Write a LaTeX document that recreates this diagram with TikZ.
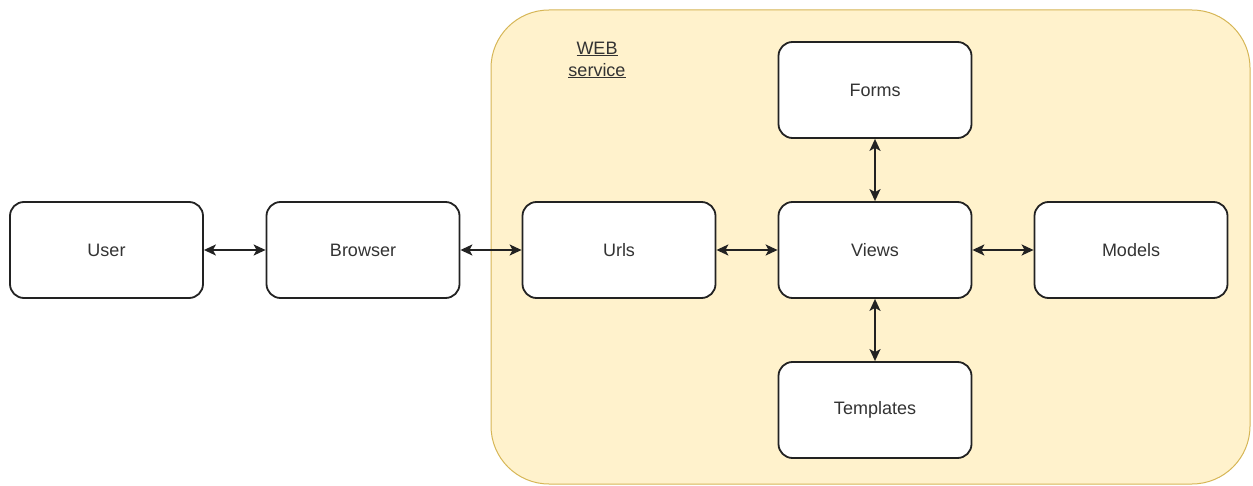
\documentclass[tikz,border=0pt]{standalone}
\usepackage{fontspec}
\setmainfont{Liberation Sans}
\usetikzlibrary{arrows.meta}
\definecolor{boxline}{HTML}{222222}
\definecolor{txt}{HTML}{333333}
\definecolor{panelfill}{HTML}{FFF2CC}
\definecolor{panelline}{HTML}{D6B656}
\tikzset{
  block/.style={draw=boxline, fill=white, line width=1.8pt, rounded corners=14pt,
    minimum width=193pt, minimum height=96pt, text=txt,
    font=\fontsize{18}{22}\selectfont},
  link/.style={draw=boxline, line width=1.8pt,
    {Stealth[length=12pt,width=11pt,inset=3pt]}-{Stealth[length=12pt,width=11pt,inset=3pt]}},
  panel/.style={draw=panelline, fill=panelfill, line width=1pt, rounded corners=58pt}
}
\begin{document}
\begin{tikzpicture}[x=1pt,y=-1pt]
  \useasboundingbox (0,0) rectangle (1253,486);
  % web service container
  \path[panel] (491,10) rectangle (1250,484);
  \node[text=txt, font=\fontsize{18}{22}\selectfont, align=center] (title) at (597,60)
    {\underline{WEB}\\\underline{service}};
  % components
  \node[block] (user) at (106.5,250) {User};
  \node[block] (browser) at (363,250) {Browser};
  \node[block] (urls) at (619,250) {Urls};
  \node[block] (views) at (875,250) {Views};
  \node[block] (models) at (1131,250) {Models};
  \node[block] (forms) at (875,90) {Forms};
  \node[block] (templates) at (875,410) {Templates};
  % connections
  \draw[link] (user) -- (browser);
  \draw[link] (browser) -- (urls);
  \draw[link] (urls) -- (views);
  \draw[link] (views) -- (models);
  \draw[link] (views) -- (forms);
  \draw[link] (views) -- (templates);
\end{tikzpicture}
\end{document}
